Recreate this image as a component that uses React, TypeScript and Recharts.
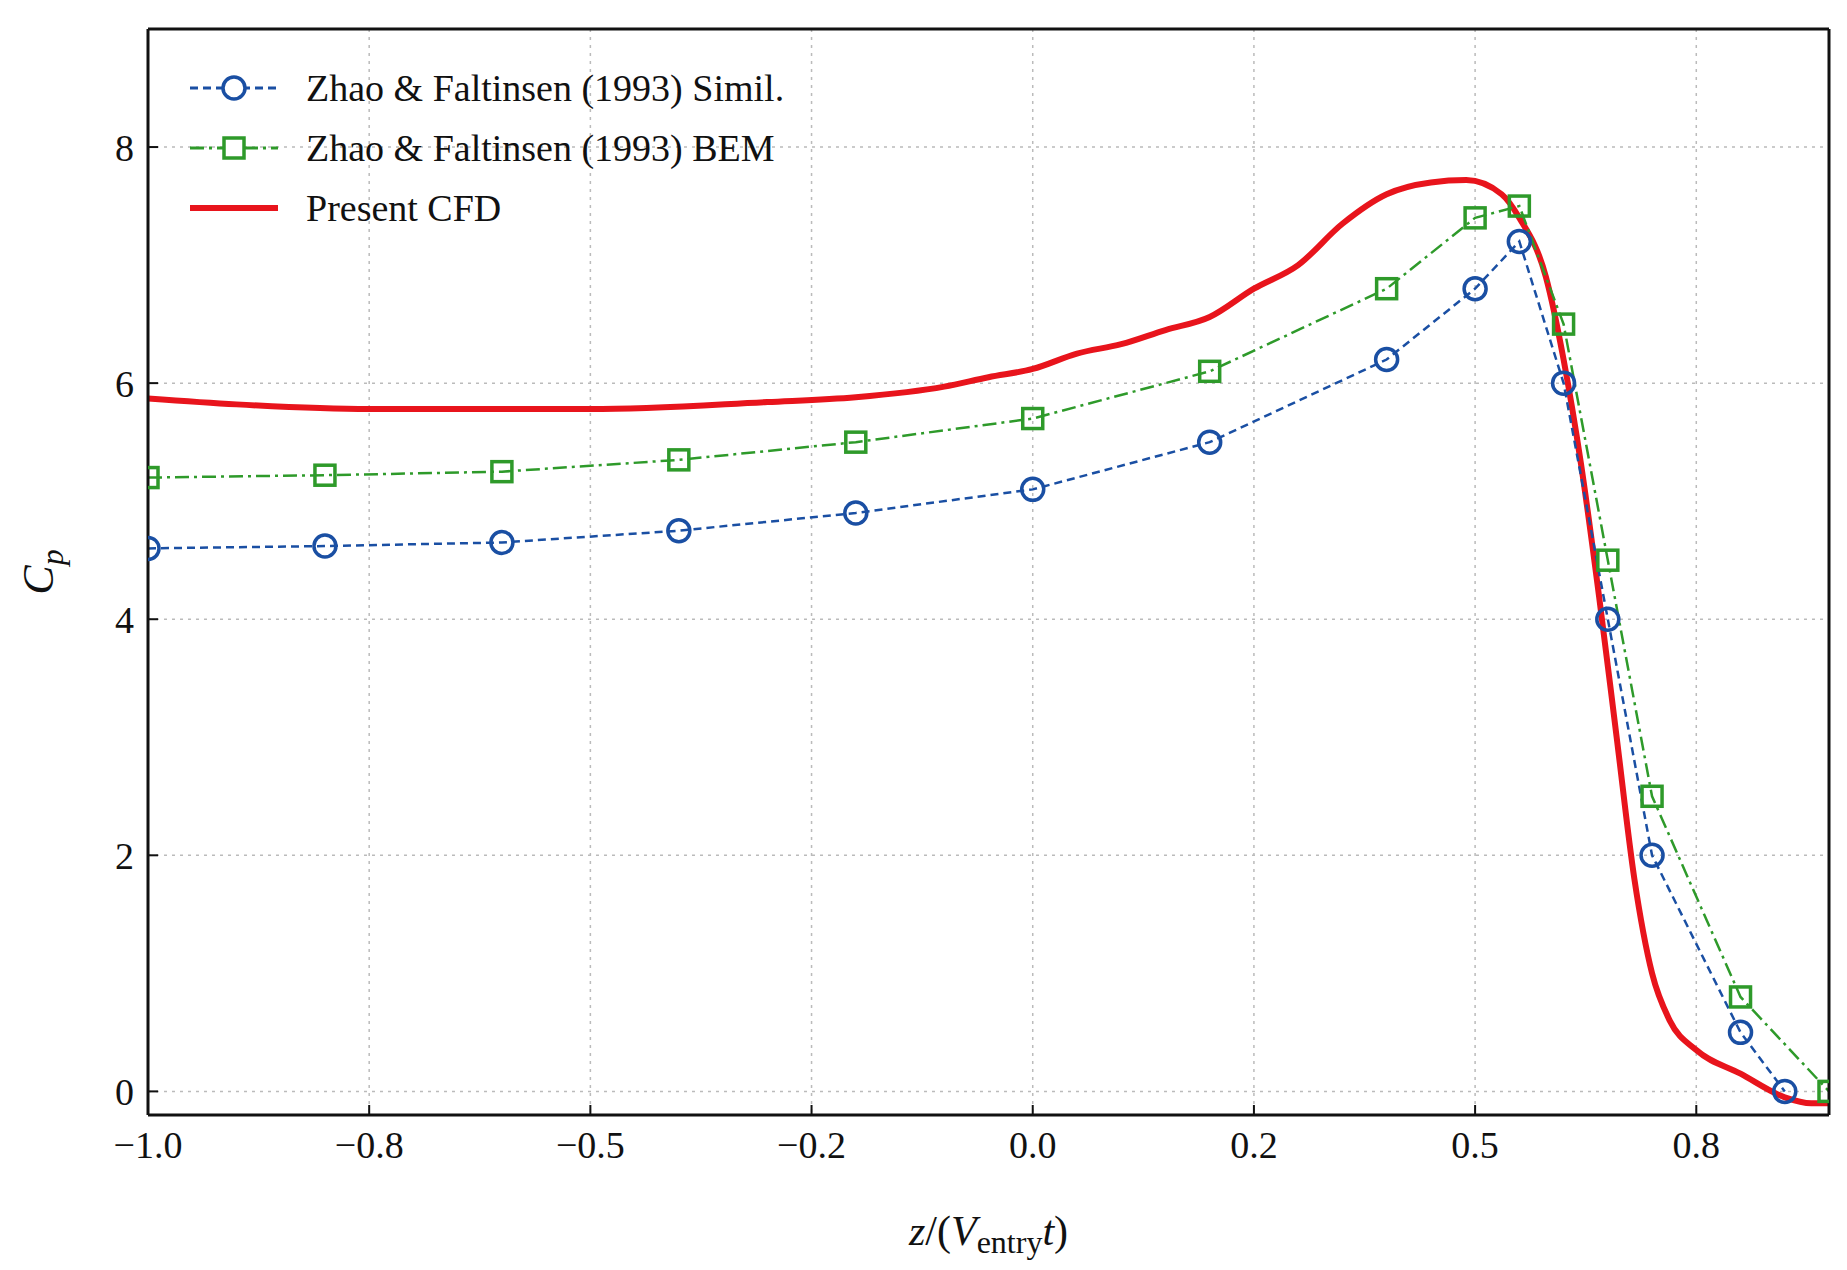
import React from "react";
import {
  ComposedChart,
  Line,
  XAxis,
  YAxis,
  CartesianGrid,
} from "recharts";

const similX = [-1, -0.8, -0.6, -0.4, -0.2, 0, 0.2, 0.4, 0.5, 0.55, 0.6, 0.65, 0.7, 0.8, 0.85];
const similY = [4.6, 4.62, 4.65, 4.75, 4.9, 5.1, 5.5, 6.2, 6.8, 7.2, 6.0, 4.0, 2.0, 0.5, 0.0];
const bemX = [-1, -0.8, -0.6, -0.4, -0.2, 0, 0.2, 0.4, 0.5, 0.55, 0.6, 0.65, 0.7, 0.8, 0.9];
const bemY = [5.2, 5.22, 5.25, 5.35, 5.5, 5.7, 6.1, 6.8, 7.4, 7.5, 6.5, 4.5, 2.5, 0.8, 0.0];
const cfdX = [-1, -0.9, -0.75, -0.5, -0.3, -0.2, -0.1, -0.05, 0, 0.05, 0.1, 0.15, 0.2, 0.25, 0.3, 0.35, 0.4, 0.45, 0.49, 0.53, 0.55, 0.58, 0.6, 0.62, 0.64, 0.66, 0.68, 0.7, 0.72, 0.75, 0.8, 0.85, 0.88, 0.9];
const cfdY = [5.87, 5.82, 5.78, 5.78, 5.84, 5.88, 5.97, 6.05, 6.12, 6.25, 6.33, 6.45, 6.56, 6.8, 7.0, 7.35, 7.6, 7.7, 7.72, 7.6, 7.4, 6.9, 6.2, 5.3, 4.2, 3.0, 1.8, 1.0, 0.6, 0.35, 0.15, -0.05, -0.1, -0.1];

const xTicks = [-1, -0.75, -0.5, -0.25, 0, 0.25, 0.5, 0.75];
const xTickLabels = ["\u22121.0", "\u22120.8", "\u22120.5", "\u22120.2", "0.0", "0.2", "0.5", "0.8"];
const yTicks = [0, 2, 4, 6, 8];

const zip = (xs: number[], ys: number[]) => xs.map((x, i) => ({ x, y: ys[i] }));
const simil = zip(similX, similY);
const bem = zip(bemX, bemY);
const cfd = zip(cfdX, cfdY);

const BLUE = "#1a4fa3";
const GREEN = "#2e9a2a";
const RED = "#e8141c";
const FONT = "'Liberation Serif', 'DejaVu Serif', serif";

const Circle = (p: any) => (
  <circle key={p.index} cx={p.cx} cy={p.cy} r={11} fill="none" stroke={BLUE} strokeWidth={3.5} />
);
const Square = (p: any) => (
  <rect key={p.index} x={p.cx - 10} y={p.cy - 10} width={20} height={20} fill="none" stroke={GREEN} strokeWidth={3.5} />
);

const LegendBox = () => {
  const rows = [
    { label: "Zhao & Faltinsen (1993) Simil.", c: BLUE, dash: "8 5", m: "c" },
    { label: "Zhao & Faltinsen (1993) BEM", c: GREEN, dash: "14 5 3 5", m: "s" },
    { label: "Present CFD", c: RED, dash: "", m: "" },
  ];
  return (
    <div style={{ position: "absolute", left: 178, top: 50, fontFamily: FONT, fontSize: 38, color: "#111" }}>
      {rows.map((r) => (
        <div key={r.label} style={{ display: "flex", alignItems: "center", height: 60 }}>
          <svg width={100} height={40} style={{ marginRight: 20 }}>
            <line x1={4} y1={20} x2={92} y2={20} stroke={r.c} strokeWidth={r.m ? 3 : 6} strokeDasharray={r.dash} />
            {r.m === "c" && <circle cx={48} cy={20} r={11} fill="white" stroke={r.c} strokeWidth={3.5} />}
            {r.m === "s" && <rect x={38} y={10} width={20} height={20} fill="white" stroke={r.c} strokeWidth={3.5} />}
          </svg>
          <span>{r.label}</span>
        </div>
      ))}
    </div>
  );
};

const XLabel = (props: any) => {
  const vb = props.viewBox;
  return (
    <text x={vb.x + vb.width / 2} y={vb.y + 130} textAnchor="middle" fontFamily={FONT} fontSize={42} fill="#111">
      <tspan fontStyle="italic">z</tspan>
      <tspan>/(</tspan>
      <tspan fontStyle="italic">V</tspan>
      <tspan fontSize={32} dy={8}>entry</tspan>
      <tspan fontStyle="italic" dy={-8}>t</tspan>
      <tspan>)</tspan>
    </text>
  );
};

const YLabel = (props: any) => {
  const vb = props.viewBox;
  const cx = vb.x + 45;
  const cy = vb.y + vb.height / 2;
  return (
    <text x={cx} y={cy} textAnchor="middle" transform={`rotate(-90 ${cx} ${cy})`} fontFamily={FONT} fontSize={44} fontStyle="italic" fill="#111">
      C<tspan fontSize={32} dy={10}>p</tspan>
    </text>
  );
};

export default function App() {
  const tickStyle = { fontFamily: FONT, fontSize: 38, fill: "#111" };
  return (
    <div style={{ position: "relative", width: 1831, height: 1262 }}>
      <ComposedChart width={1831} height={1262} margin={{ top: 20, right: 9, bottom: 10, left: 0 }}>
        <CartesianGrid stroke="#bbb" strokeDasharray="3 5" strokeWidth={1.5} horizontalValues={yTicks} verticalValues={xTicks} />
        <XAxis
          type="number"
          dataKey="x"
          domain={[-1, 0.9]}
          ticks={xTicks}
          tickFormatter={(v: number) => xTickLabels[xTicks.indexOf(v)]}
          tick={tickStyle}
          tickLine={{ stroke: "#111", strokeWidth: 2 }}
          tickSize={-10}
          tickMargin={26}
          height={145}
          stroke="#111"
          strokeWidth={3}
          allowDataOverflow
          label={<XLabel />}
        />
        <XAxis
          xAxisId="t"
          orientation="top"
          type="number"
          domain={[-1, 0.9]}
          ticks={xTicks}
          tickFormatter={() => ""}
          tickLine={{ stroke: "#111", strokeWidth: 2 }}
          tickSize={-10}
          height={1}
          stroke="#111"
          strokeWidth={3}
        />
        <YAxis
          type="number"
          domain={[-0.2, 9]}
          ticks={yTicks}
          tick={tickStyle}
          tickLine={{ stroke: "#111", strokeWidth: 2 }}
          tickSize={-10}
          tickMargin={24}
          width={140}
          stroke="#111"
          strokeWidth={3}
          allowDataOverflow
          label={<YLabel />}
        />
        <YAxis
          yAxisId="r"
          orientation="right"
          type="number"
          domain={[-0.2, 9]}
          ticks={yTicks}
          tickFormatter={() => ""}
          tickLine={{ stroke: "#111", strokeWidth: 2 }}
          tickSize={-10}
          width={1}
          stroke="#111"
          strokeWidth={3}
        />
        <Line data={cfd} dataKey="y" type="monotone" stroke={RED} strokeWidth={6} dot={false} isAnimationActive={false} />
        <Line data={bem} dataKey="y" type="linear" stroke={GREEN} strokeWidth={2.5} strokeDasharray="14 5 3 5" dot={Square} isAnimationActive={false} />
        <Line data={simil} dataKey="y" type="linear" stroke={BLUE} strokeWidth={2.5} strokeDasharray="8 5" dot={Circle} isAnimationActive={false} />
      </ComposedChart>
      <LegendBox />
    </div>
  );
}
